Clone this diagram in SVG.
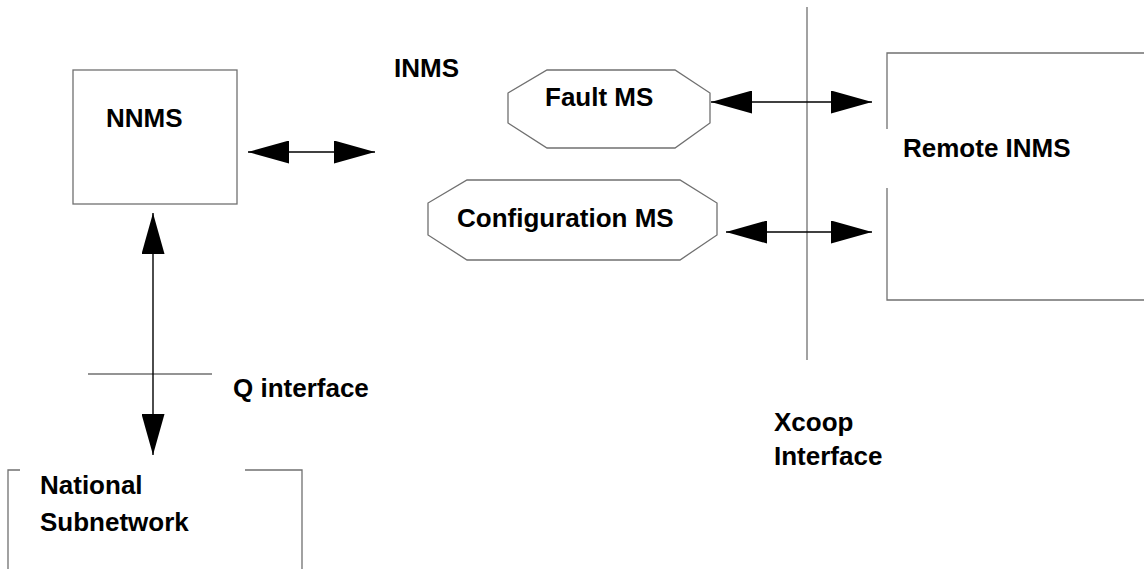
<svg xmlns="http://www.w3.org/2000/svg" width="1144" height="569" viewBox="0 0 1144 569">
  <style>
    .label { font-family: "Liberation Sans", Arial, sans-serif; font-weight: bold; font-size: 26px; fill: #000; }
    .frame { fill: none; stroke: #707070; stroke-width: 1.3; }
    .ms { fill: #fff; stroke: #707070; stroke-width: 1.3; }
    .link { fill: none; stroke: #000; stroke-width: 1.4; marker-start: url(#head); marker-end: url(#head); }
  </style>
  <defs>
    <marker id="head" viewBox="0 0 41 23" refX="41" refY="11.5" markerWidth="41" markerHeight="23" markerUnits="userSpaceOnUse" orient="auto-start-reverse">
      <path d="M0,0 L41,11.5 L0,23 Z" fill="#000"/>
    </marker>
  </defs>
  <rect width="1144" height="569" fill="#fff"/>

  <g id="nnms">
    <rect class="frame" x="73" y="70" width="164" height="134"/>
    <text class="label" x="106" y="127">NNMS</text>
  </g>

  <g id="inms">
    <text class="label" x="394" y="77">INMS</text>
  </g>

  <g id="fault-ms">
    <polygon class="ms" points="547,70 675,70 710,93 710,123 675,148 547,148 508,123 508,93"/>
    <text class="label" x="545" y="106">Fault MS</text>
  </g>

  <g id="configuration-ms">
    <polygon class="ms" points="467,180 680,180 717,203 717,235 680,260 467,260 428,235 428,203"/>
    <text class="label" x="457" y="227">Configuration MS</text>
  </g>

  <g id="remote-inms">
    <path class="frame" d="M1144,53 H887 V129 M887,188 V300 H1144"/>
    <text class="label" x="903" y="157">Remote INMS</text>
  </g>

  <g id="national-subnetwork">
    <path class="frame" d="M20,470 H8 V569 M245,470 H302 V569"/>
    <text class="label" x="40" y="494">National</text>
    <text class="label" x="40" y="531">Subnetwork</text>
  </g>

  <g id="q-interface">
    <path class="frame" d="M88,374 H212"/>
    <text class="label" x="233" y="397">Q interface</text>
  </g>

  <g id="xcoop-interface">
    <path class="frame" d="M807,7 V360"/>
    <text class="label" x="774" y="431">Xcoop</text>
    <text class="label" x="774" y="465">Interface</text>
  </g>

  <g id="connectors">
    <line class="link" x1="248" y1="152" x2="375" y2="152"/>
    <line class="link" x1="711" y1="102" x2="872" y2="102"/>
    <line class="link" x1="726" y1="232" x2="872" y2="232"/>
    <line class="link" x1="153" y1="213" x2="153" y2="455"/>
  </g>
</svg>
